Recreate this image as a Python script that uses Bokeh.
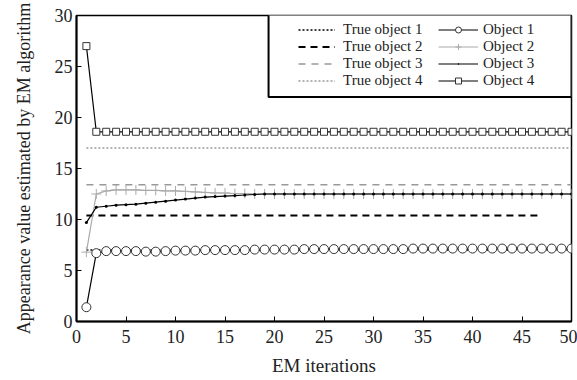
from bokeh.plotting import figure
from bokeh.models import Legend, LegendItem, BoxAnnotation, Range1d, FixedTicker
from bokeh.embed import file_html
from bokeh.resources import INLINE

# ---- data ----
iterations = list(range(1, 51))
obj1 = [1.4, 6.7, 6.9, 6.9, 6.9, 6.9, 6.85, 6.85, 6.9, 6.95,
        6.95, 6.95, 7.0, 7.0, 7.0, 7.0, 7.0, 7.05, 7.05, 7.05,
        7.05, 7.05, 7.1, 7.1, 7.1, 7.1, 7.1, 7.1, 7.1, 7.1,
        7.1, 7.1, 7.1, 7.15, 7.15, 7.15, 7.15, 7.15, 7.15, 7.15,
        7.15, 7.15, 7.15, 7.15, 7.15, 7.15, 7.15, 7.15, 7.15, 7.15]
obj2 = [6.8, 12.5, 12.8, 12.9, 12.9, 12.9, 12.85, 12.85, 12.8, 12.8,
        12.75, 12.7, 12.65, 12.6, 12.6, 12.55, 12.55, 12.5, 12.5, 12.5,
        12.5, 12.5, 12.5, 12.5, 12.5, 12.5, 12.5, 12.5, 12.5, 12.5,
        12.5, 12.5, 12.5, 12.5, 12.5, 12.5, 12.5, 12.5, 12.5, 12.5,
        12.5, 12.5, 12.5, 12.5, 12.5, 12.5, 12.5, 12.5, 12.5, 12.5]
obj3 = [9.7, 11.2, 11.3, 11.4, 11.45, 11.5, 11.6, 11.7, 11.8, 11.9,
        12.0, 12.1, 12.2, 12.25, 12.3, 12.35, 12.4, 12.45, 12.5, 12.5,
        12.5, 12.5, 12.5, 12.5, 12.5, 12.5, 12.5, 12.5, 12.5, 12.5,
        12.5, 12.5, 12.5, 12.5, 12.5, 12.5, 12.5, 12.5, 12.5, 12.5,
        12.5, 12.5, 12.5, 12.5, 12.5, 12.5, 12.5, 12.5, 12.5, 12.5]
obj4 = [27.0] + [18.6] * 49
true_values = [7.0, 10.4, 13.4, 17.0]
true_x_start = [1, 1, 1, 1]
true_x_end = [50, 47, 50, 50]
x_ticks = [0, 5, 10, 15, 20, 25, 30, 35, 40, 45, 50]
y_ticks = [0, 5, 10, 15, 20, 25, 30]

FONT = "Liberation Serif"

p = figure(width=577, height=378, output_backend="svg", toolbar_location=None,
           x_range=Range1d(0, 50), y_range=Range1d(0, 30),
           min_border_left=76, min_border_right=6, min_border_top=15,
           min_border_bottom=57)
p.grid.visible = False
p.outline_line_color = "black"
p.outline_line_width = 1.5

for ax in (p.xaxis[0], p.yaxis[0]):
    ax.axis_line_width = 2
    ax.major_tick_in = 5
    ax.major_tick_out = 0
    ax.minor_tick_line_color = None
    ax.major_label_text_font = FONT
    ax.major_label_text_font_size = "18px"
    ax.major_label_text_color = "#222222"
    ax.axis_label_text_font = FONT
    ax.axis_label_text_font_style = "normal"
    ax.axis_label_text_color = "#222222"

p.xaxis.ticker = FixedTicker(ticks=x_ticks)
p.yaxis.ticker = FixedTicker(ticks=y_ticks)
p.xaxis.axis_label = "EM iterations"
p.xaxis.axis_label_text_font_size = "19px"
p.xaxis.major_label_standoff = 8
p.xaxis.axis_label_standoff = 9
p.yaxis.axis_label = "Appearance value estimated by EM algorithm"
p.yaxis.axis_label_text_font_size = "18px"
p.yaxis.major_label_standoff = 4
p.yaxis.axis_label_standoff = 18

# true values
true_styles = [
    dict(line_color="black", line_dash="2 2", line_width=1.5),
    dict(line_color="black", line_dash="7 5", line_width=2),
    dict(line_color="#999999", line_dash="7 6", line_width=1.5),
    dict(line_color="#999999", line_dash="2 2", line_width=1.5),
]
true_renderers = []
for tv, xs, xe, st in zip(true_values, true_x_start, true_x_end, true_styles):
    r = p.line([xs, xe], [tv, tv], **st)
    true_renderers.append(r)

# estimated curves
l2 = p.line(iterations, obj2, line_color="#aaaaaa", line_width=1.2)
s2 = p.scatter(iterations, obj2, marker="cross", size=10, line_color="#aaaaaa", line_width=1)
l3 = p.line(iterations, obj3, line_color="black", line_width=1.2)
s3 = p.scatter(iterations, obj3, marker="dot", size=12, fill_color="black", line_color="black")
l1 = p.line(iterations, obj1, line_color="black", line_width=1.2)
s1 = p.scatter(iterations, obj1, marker="circle", size=9, fill_color="white", line_color="#333333", line_width=1)
l4 = p.line(iterations, obj4, line_color="black", line_width=1.2)
s4 = p.scatter(iterations, obj4, marker="square", size=7, fill_color="white", line_color="#333333", line_width=1)

# legend box
box = BoxAnnotation(left=19.4, right=50, bottom=22.0, top=30.2,
                    fill_color="white", fill_alpha=1.0,
                    line_color="black", line_width=2, line_alpha=1.0)
p.add_layout(box)

true_labels = ["True object 1", "True object 2", "True object 3", "True object 4"]
obj_labels = ["Object 1", "Object 2", "Object 3", "Object 4"]

leg1 = Legend(items=[LegendItem(label=lab, renderers=[r]) for lab, r in zip(true_labels, true_renderers)],
              location=(222, 232))
leg2 = Legend(items=[LegendItem(label=obj_labels[0], renderers=[l1, s1]),
                     LegendItem(label=obj_labels[1], renderers=[l2, s2]),
                     LegendItem(label=obj_labels[2], renderers=[l3, s3]),
                     LegendItem(label=obj_labels[3], renderers=[l4, s4])],
              location=(362, 232))
for lg, gw, so in ((leg1, 37, 8), (leg2, 40, 5)):
    lg.border_line_color = None
    lg.background_fill_alpha = 0
    lg.padding = 0
    lg.margin = 0
    lg.spacing = -3
    lg.label_height = 15
    lg.glyph_height = 15
    lg.glyph_width = gw
    lg.label_standoff = so
    lg.label_text_font = FONT
    lg.label_text_font_size = "15px"
    lg.label_text_color = "#222222"
    p.add_layout(lg)

open("out.html", "w").write(file_html(p, INLINE))
